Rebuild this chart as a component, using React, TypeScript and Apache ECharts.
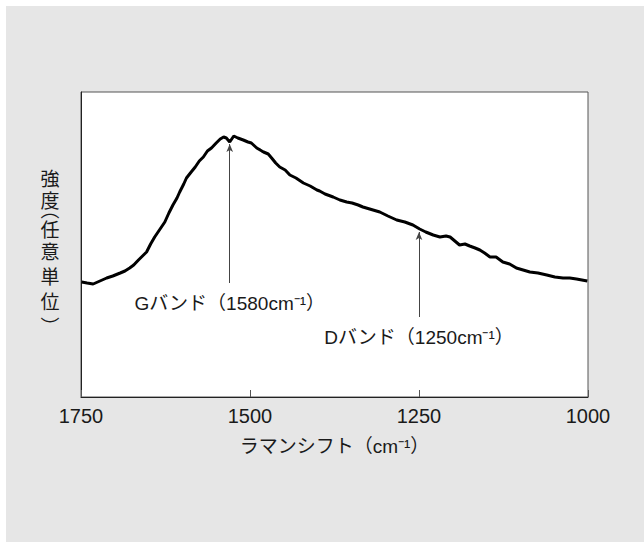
import React, { useEffect, useRef } from "react";
import * as echarts from "echarts";

// Raman shift (cm^-1), left (1750) to right (1000)
const ramanShift = [
  1749, 1741, 1732, 1722, 1712, 1703, 1692, 1685, 1678, 1672, 1665, 1659, 1653,
  1647, 1641, 1633, 1626, 1620, 1614, 1608, 1604, 1598, 1594, 1587, 1581, 1575,
  1569, 1563, 1557, 1550, 1544, 1539, 1535, 1530, 1524, 1518, 1510, 1503, 1498,
  1490, 1480, 1473, 1468, 1462, 1456, 1448, 1441, 1432, 1421, 1411, 1401, 1397,
  1389, 1377, 1367, 1357, 1349, 1340, 1333, 1323, 1308, 1296, 1283, 1271, 1259,
  1249, 1240, 1229, 1219, 1210, 1204, 1197, 1190, 1182, 1175, 1167, 1160, 1153,
  1145, 1136, 1126, 1116, 1106, 1096, 1086, 1074, 1061, 1049, 1037, 1027, 1017,
  1009, 1001,
];
// Intensity (arbitrary units)
const intensity = [
  115, 114, 113, 116, 119, 121, 124, 126, 129, 132, 137, 141, 145, 153, 160,
  168, 175, 184, 192, 199, 205, 213, 219, 225, 230, 236, 240, 246, 249, 254,
  258, 260, 259, 255, 261, 259, 257, 255, 254, 249, 245, 243, 239, 234, 230,
  227, 222, 219, 214, 211, 207, 206, 203, 200, 197, 195, 194, 192, 190, 188,
  185, 181, 177, 175, 172, 168, 165, 162, 160, 161, 160, 156, 152, 153, 151,
  149, 147, 144, 140, 140, 135, 133, 129, 127, 125, 124, 122, 120, 119, 119,
  118, 117, 116,
];

const xTicks = [1750, 1500, 1250, 1000];
const xAxisName = "ラマンシフト（cm⁻¹）";
const yAxisChars = ["強", "度", "︵", "任", "意", "単", "位", "︶"];

// Band annotations: arrow position shown, arrow base and tip intensity, text
const bandLabels = ["Gバンド（1580cm⁻¹）", "Dバンド（1250cm⁻¹）"];
const bandArrowX = [1530, 1250];
const bandArrowBase = [114, 80];
const bandArrowTip = [253, 165];

const FONT = "'Liberation Sans', 'Noto Sans CJK JP', sans-serif";
const CJK = "'Noto Sans CJK JP', sans-serif";
const INK = "#1a1a1a";

export default function App() {
  const ref = useRef<HTMLDivElement>(null);
  useEffect(() => {
    if (!ref.current) return;
    const chart = echarts.init(ref.current, null, { renderer: "svg" });
    const data = ramanShift.map((x, i) => [x, intensity[i]]);
    // vertical-form parentheses draw off-centre in their em box, hence 202 / 319
    const yCenters = [171, 193, 202, 222, 244, 269, 294, 319];
    chart.setOption({
      animation: false,
      backgroundColor: "#e6e6e6",
      textStyle: { fontFamily: FONT },
      grid: {
        left: 75,
        top: 86,
        width: 507,
        height: 305,
        show: true,
        backgroundColor: "#ffffff",
        borderColor: "#555",
        borderWidth: 1,
      },
      xAxis: {
        type: "value",
        inverse: true,
        min: 1000,
        max: 1750,
        interval: 250,
        splitLine: { show: false },
        axisLine: { show: true, lineStyle: { color: "#222", width: 1 } },
        axisTick: { show: true, inside: true, length: 7, lineStyle: { color: "#555" } },
        axisLabel: {
          color: INK,
          fontSize: 20,
          fontFamily: FONT,
          margin: 9,
          formatter: (v: number) => (xTicks.includes(v) ? String(v) : ""),
        },
        name: xAxisName,
        nameLocation: "middle",
        nameGap: 40,
        nameTextStyle: { color: INK, fontSize: 19, fontFamily: FONT },
      },
      yAxis: {
        type: "value",
        min: 0,
        max: 305,
        splitLine: { show: false },
        axisLine: { show: true, lineStyle: { color: "#222", width: 1 } },
        axisTick: { show: false },
        axisLabel: { show: false },
      },
      series: [
        {
          type: "line",
          data,
          showSymbol: false,
          symbol: "none",
          lineStyle: { color: "#000", width: 3 },
          markLine: {
            silent: true,
            symbol: ["none", "arrow"],
            symbolSize: [5, 8],
            lineStyle: { color: "#444", width: 1, type: "solid" },
            label: {
              show: true,
              position: "start",
              distance: 11,
              color: INK,
              fontSize: 19,
              fontFamily: FONT,
              formatter: (p: any) => p.name,
            },
            data: bandLabels.map((name, i) => [
              { name, coord: [bandArrowX[i], bandArrowBase[i]] },
              { coord: [bandArrowX[i], bandArrowTip[i]] },
            ]),
          },
        },
      ],
      graphic: yAxisChars.map((ch, i) => ({
        type: "text",
        x: 44,
        y: yCenters[i],
        style: {
          text: ch,
          fill: INK,
          fontSize: 19,
          fontFamily: CJK,
          align: "center",
          verticalAlign: "middle",
        },
      })),
    });
    return () => chart.dispose();
  }, []);
  return (
    <div
      ref={ref}
      style={{ position: "fixed", left: 6, top: 6, width: 638, height: 536 }}
    />
  );
}
